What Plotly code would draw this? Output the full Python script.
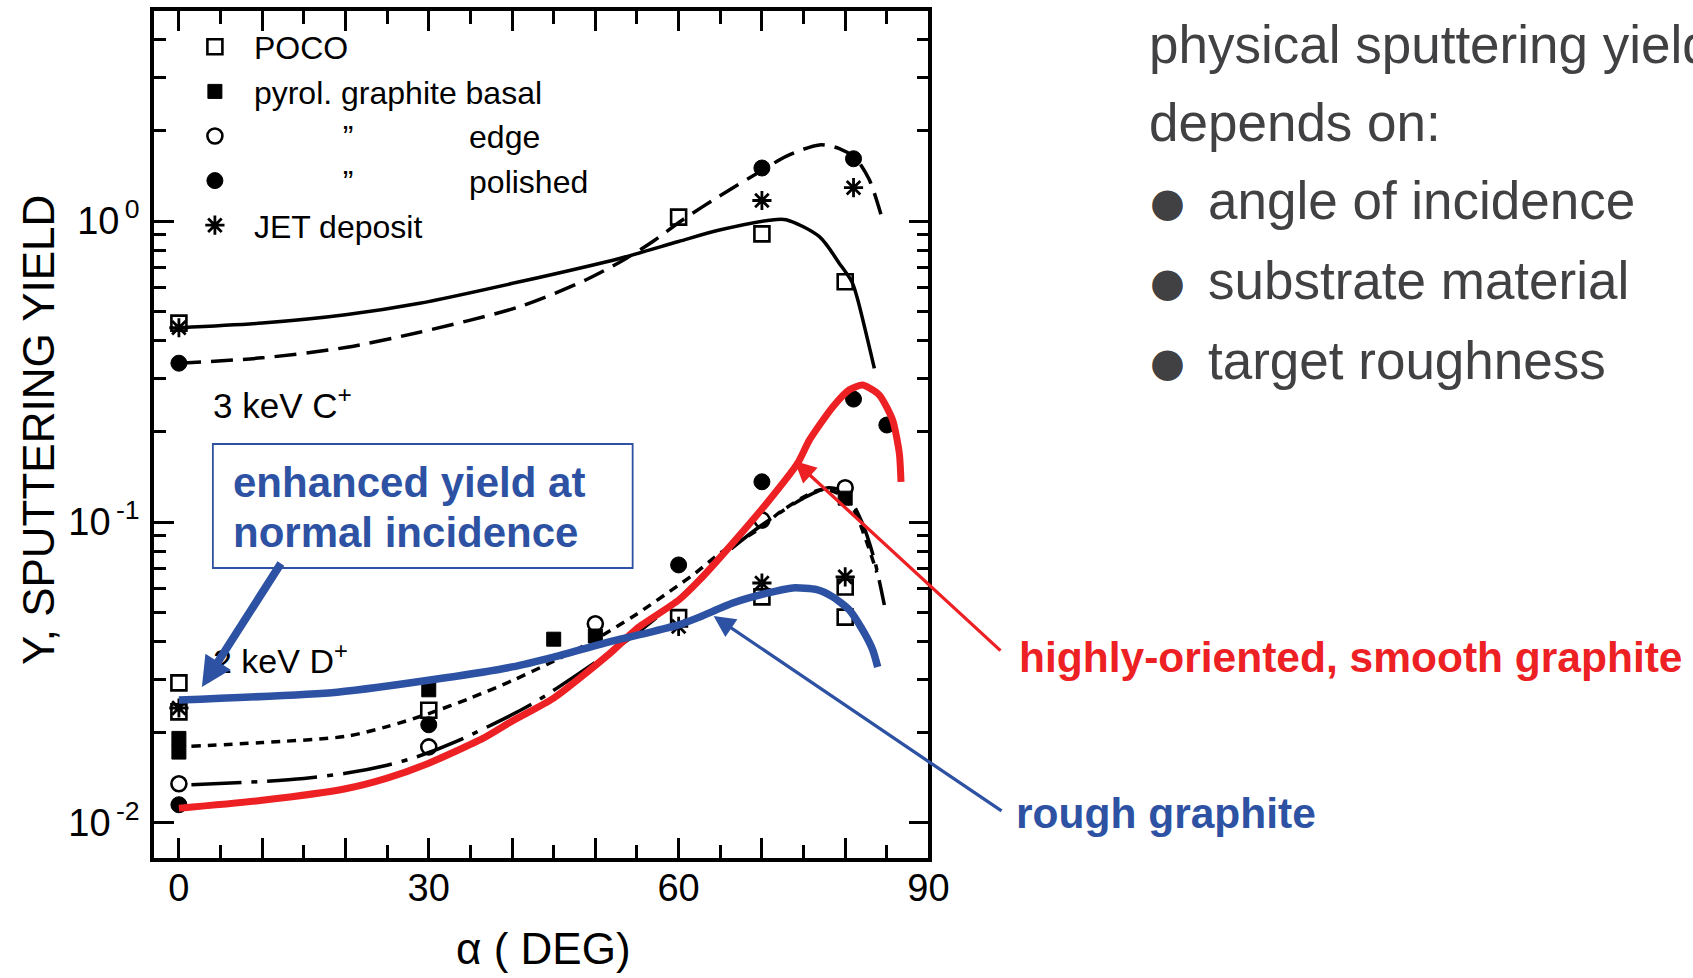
import plotly.graph_objects as go

W, H = 1693, 978

# ---------------- data ----------------
# 3 keV C+ : measured points
c_poco_x = [0, 60, 70, 80]
c_poco_y = [0.458, 1.03, 0.906, 0.628]
c_polished_x = [0, 70, 81]
c_polished_y = [0.337, 1.50, 1.61]
c_jet_x = [0, 70, 81]
c_jet_y = [0.442, 1.17, 1.29]

# 2 keV D+ : measured points
d_poco_x = [0, 0, 30, 60, 70, 80, 80]
d_poco_y = [0.0292, 0.0234, 0.0237, 0.0481, 0.0564, 0.0608, 0.0483]
d_basal_x = [0, 0, 30, 45, 50, 80]
d_basal_y = [0.0191, 0.0172, 0.0277, 0.0408, 0.0418, 0.120]
d_edge_x = [0, 30, 50, 70, 80]
d_edge_y = [0.0135, 0.0179, 0.0459, 0.1016, 0.130]
d_polished_x = [0, 30, 60, 70, 81, 85]
d_polished_y = [0.0115, 0.0212, 0.0720, 0.136, 0.256, 0.210]
d_jet_x = [0, 60, 70, 80]
d_jet_y = [0.0241, 0.0450, 0.0627, 0.0657]

# fitted curves
c_solid_x = [0, 10, 20, 28.9, 40.9, 52.9, 60, 64.9, 70.9, 72.9, 76.9, 79.3, 80.8, 81.4, 83.5]
c_solid_y = [0.442, 0.458, 0.488, 0.533, 0.628, 0.751, 0.855, 0.933, 1.006, 1.01, 0.887, 0.723, 0.628, 0.561, 0.324]
c_dash_x = [0, 10, 20, 28.9, 40.9, 48.9, 53.7, 56.9, 60.5, 64.9, 70.5, 72.9, 76.9, 79.3, 81.3, 82.9, 84.3]
c_dash_y = [0.337, 0.351, 0.38, 0.427, 0.519, 0.638, 0.751, 0.855, 1.01, 1.21, 1.50, 1.64, 1.79, 1.74, 1.61, 1.37, 1.05]
d_dot_x = [1.5, 10, 20, 25, 30, 35, 40, 45, 50, 55, 60, 62, 65, 70, 72, 75, 77, 79, 81, 82.5, 83.8]
d_dot_y = [0.018, 0.0185, 0.0194, 0.0209, 0.0231, 0.026, 0.0297, 0.0345, 0.0407, 0.0495, 0.0617, 0.0676, 0.0789, 0.096, 0.107, 0.121, 0.128, 0.125, 0.110, 0.087, 0.068]
d_dashdot_x = [1.5, 10, 15, 20, 25, 28.6, 33.4, 41.4, 44.2, 50.6, 55, 60, 65, 70, 75, 78, 80, 82, 83.5, 84.7]
d_dashdot_y = [0.0134, 0.01374, 0.01406, 0.01462, 0.01556, 0.0166, 0.0187, 0.024, 0.0267, 0.0351, 0.0427, 0.0556, 0.0759, 0.0977, 0.120, 0.130, 0.125, 0.100, 0.075, 0.053]

# hand-drawn overlays
smooth_x = [0, 10, 20, 25, 30, 36.5, 40, 45, 51.8, 55, 60, 62.5, 66.5, 70.6, 74.3, 75.7, 78.5, 80.5, 82.1, 84.1, 85.7, 86.5, 86.7]
smooth_y = [0.0112, 0.0119, 0.0130, 0.0141, 0.0158, 0.0191, 0.0218, 0.026, 0.0367, 0.0443, 0.055, 0.0641, 0.0851, 0.1157, 0.157, 0.187, 0.241, 0.275, 0.285, 0.264, 0.218, 0.169, 0.136]
rough_x = [0, 19, 31.8, 40, 45, 52, 56.5, 60, 62.5, 66.5, 70.6, 73.7, 76.6, 78.5, 80.5, 82.1, 83.3, 83.9]
rough_y = [0.0256, 0.0272, 0.0303, 0.033, 0.0356, 0.0402, 0.043, 0.0455, 0.0483, 0.0538, 0.058, 0.0604, 0.0596, 0.0564, 0.051, 0.0437, 0.0376, 0.033]

# ticks
x_major = [0, 10, 20, 30, 40, 50, 60, 70, 80, 90]
x_labels = ["0", " ", " ", "30", " ", " ", "60", " ", " ", "90"]
x_minor = [5, 15, 25, 35, 45, 55, 65, 75, 85]
y_major = [0.01, 0.1, 1]
y_labels = ["10<sup>\u2009-2</sup>", "10<sup>\u2009-1</sup>", "10<sup>\u20090</sup>"]
y_mantissas = [2, 3, 4, 5, 6, 7, 8, 9]
y_minor = [m * d for d in y_major for m in y_mantissas if m * d < 5]

legend_names = ["POCO", "pyrol. graphite basal",
                "\u00a0" * 10 + "\u201d" + "\u00a0" * 13 + "edge",
                "\u00a0" * 10 + "\u201d" + "\u00a0" * 13 + "polished",
                "JET deposit"]

RED = "#ED2024"
BLUE = "#2E52A3"
GRAY = "#414143"
FONT = "Liberation Sans, Arial, sans-serif"
XS = 1.012  # horizontal placement correction


def px(v):
    return v * XS / W


def py(v):
    return 1 - v / H


fig = go.Figure()


def curve(x, y, color, width, dash, smoothing=0.8):
    fig.add_trace(go.Scatter(x=x, y=y, mode="lines", showlegend=False, hoverinfo="skip",
                             line=dict(color=color, width=width, dash=dash,
                                       shape="spline", smoothing=smoothing)))


curve(c_solid_x, c_solid_y, "black", 3.5, "solid")
curve(c_dash_x, c_dash_y, "black", 3.5, "22px,10px")
curve(d_dot_x, d_dot_y, "black", 3.5, "9px,7px")
curve(d_dashdot_x, d_dashdot_y, "black", 3.5, "50px,10px,6px,10px")

styles = [
    ("square-open", 15, 2.6),
    ("square", 14, 1),
    ("circle-open", 15, 2.6),
    ("circle", 16, 1),
    ("asterisk-open", 16, 2.8),
]
c_sets = [(c_poco_x, c_poco_y), ([], []), ([], []), (c_polished_x, c_polished_y), (c_jet_x, c_jet_y)]
d_sets = [(d_poco_x, d_poco_y), (d_basal_x, d_basal_y), (d_edge_x, d_edge_y),
          (d_polished_x, d_polished_y), (d_jet_x, d_jet_y)]

for i, (name, (sym, size, lw)) in enumerate(zip(legend_names, styles)):
    cx, cy = c_sets[i]
    dx, dy = d_sets[i]
    mk = dict(symbol=sym, size=size, color="black", line=dict(color="black", width=lw))
    fig.add_trace(go.Scatter(x=cx + dx, y=cy + dy, mode="markers", name=name,
                             marker=mk, showlegend=True, hoverinfo="skip"))

curve(smooth_x, smooth_y, RED, 7, "solid", 0.6)
curve(rough_x, rough_y, BLUE, 7.5, "solid", 0.6)

axis_common = dict(showline=True, linewidth=3.5, linecolor="black", mirror="ticks",
                   ticks="inside", ticklen=20, tickwidth=2.5, tickcolor="black",
                   showgrid=False, zeroline=False,
                   tickfont=dict(family=FONT, size=38, color="black"))

fig.update_layout(
    width=W, height=H, margin=dict(l=0, r=0, t=0, b=0),
    paper_bgcolor="white", plot_bgcolor="white",
    showlegend=True,
    legend=dict(x=px(176), y=py(19.5), xanchor="left", yanchor="top",
                bgcolor="rgba(0,0,0,0)", itemwidth=68, tracegroupgap=0,
                font=dict(family=FONT, size=32, color="black")),
    xaxis=dict(domain=[px(154), px(929)], range=[-3, 90],
               tickmode="array", tickvals=x_major, ticktext=x_labels,
               ticklabelstandoff=-6,
               minor=dict(ticks="inside", ticklen=13, tickwidth=2.5, tickcolor="black",
                          tickmode="array", tickvals=x_minor, showgrid=False),
               **axis_common),
    yaxis=dict(type="log", domain=[1 - 858 / H, 1 - 11 / H], range=[-2.1163, 0.6977],
               tickmode="array", tickvals=y_major, ticktext=y_labels,
               ticklabelstandoff=3,
               minor=dict(ticks="inside", ticklen=12, tickwidth=2.5, tickcolor="black",
                          tickmode="array", tickvals=y_minor, showgrid=False),
               **axis_common),
)

ann = []
# axis titles
ann.append(dict(x=px(38), y=py(430), text="Y, SPUTTERING YIELD", textangle=-90, xanchor="center",
                font=dict(family=FONT, size=44, color="black")))
ann.append(dict(x=px(544), y=py(948), text="\u03b1 ( DEG)", xanchor="center",
                font=dict(family=FONT, size=44, color="black")))
# in-plot labels
ann.append(dict(x=px(211), y=py(403), text="3 keV C<sup>+</sup>", xanchor="left",
                font=dict(family=FONT, size=35, color="black")))
ann.append(dict(x=px(211), y=py(658), text="2 keV D<sup>+</sup>", xanchor="left",
                font=dict(family=FONT, size=34, color="black")))
# box text
ann.append(dict(x=px(231), y=py(482), text="<b>enhanced yield at</b>", xanchor="left",
                font=dict(family=FONT, size=42, color=BLUE)))
ann.append(dict(x=px(231), y=py(532), text="<b>normal incidence</b>", xanchor="left",
                font=dict(family=FONT, size=42, color=BLUE)))
# big arrow
ann.append(dict(x=px(202), y=py(687), ax=(281 - 202) * XS, ay=562 - 687, text="",
                showarrow=True, arrowhead=2, arrowsize=0.75, arrowwidth=8, arrowcolor=BLUE))
# red / blue labels
ann.append(dict(x=px(1018), y=py(657), text="<b>highly-oriented, smooth graphite</b>", xanchor="left",
                font=dict(family=FONT, size=42.5, color=RED)))
ann.append(dict(x=px(1015), y=py(813), text="<b>rough graphite</b>", xanchor="left",
                font=dict(family=FONT, size=42.5, color=BLUE)))
ann.append(dict(x=px(795), y=py(461), ax=(1000 - 795) * XS, ay=652 - 461, text="",
                showarrow=True, arrowhead=2, arrowsize=1.3, arrowwidth=3.3, arrowcolor=RED))
ann.append(dict(x=px(714), y=py(616), ax=(1000 - 714) * XS, ay=812 - 616, text="",
                showarrow=True, arrowhead=2, arrowsize=1.3, arrowwidth=3.3, arrowcolor=BLUE))
# right side text
right_lines = ["physical sputtering yield", "depends on:"]
right_y = [44, 123]
for t, yy in zip(right_lines, right_y):
    ann.append(dict(x=px(1148), y=py(yy), text=t, xanchor="left",
                    font=dict(family=FONT, size=53, color=GRAY)))
bullets = ["angle of incidence", "substrate material", "target roughness"]
bullet_y = [200, 280, 360]
for t, yy in zip(bullets, bullet_y):
    ann.append(dict(x=px(1207), y=py(yy), text=t, xanchor="left",
                    font=dict(family=FONT, size=53, color=GRAY)))
    ann.append(dict(x=px(1168), y=py(yy + 2), text="\u25cf", xanchor="center",
                    font=dict(family="DejaVu Sans", size=40, color=GRAY)))

for a in ann:
    a.setdefault("showarrow", False)
    a.setdefault("xref", "paper")
    a.setdefault("yref", "paper")
    a.setdefault("yanchor", "middle")
fig.update_layout(annotations=ann)

fig.add_shape(type="rect", xref="paper", yref="paper",
              x0=px(213), x1=px(633), y0=py(568), y1=py(444),
              line=dict(color=BLUE, width=1.8), fillcolor="rgba(0,0,0,0)", layer="above")

fig.write_html("out.html")
